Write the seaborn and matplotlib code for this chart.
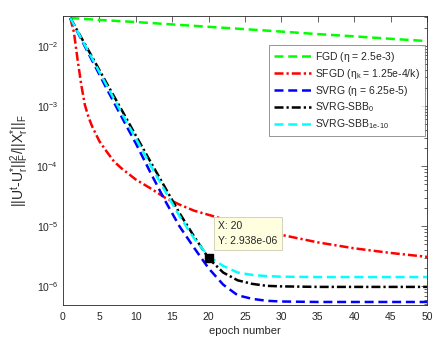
import matplotlib
matplotlib.use("Agg")
import matplotlib.pyplot as plt
import matplotlib.ticker as mticker
import seaborn as sns
import pandas as pd

# ---- data ----
fgd_epoch = [1, 5, 10, 15, 20, 25, 30, 35, 40, 45, 50]
fgd_err = [2.93e-2, 2.72e-2, 2.51e-2, 2.29e-2, 2.09e-2, 1.91e-2, 1.74e-2, 1.58e-2, 1.45e-2, 1.32e-2, 1.21e-2]

sfgd_epoch = [1, 1.5, 2, 2.5, 3, 3.5, 4, 5, 6, 7, 8, 10, 12, 14, 16, 18, 20, 22, 25, 30, 35, 40, 45, 50]
sfgd_err = [2.93e-2, 1.7e-2, 6.0e-3, 2.3e-3, 1.05e-3, 6.6e-4, 4.6e-4, 2.6e-4, 1.75e-4, 1.2e-4, 9.3e-5,
            6.0e-5, 4.3e-5, 3.0e-5, 2.3e-5, 1.82e-5, 1.55e-5, 1.32e-5, 1.05e-5, 7.2e-6, 5.4e-6, 4.3e-6,
            3.6e-6, 3.1e-6]

sbb_epoch = [1, 2, 4, 6, 8, 10, 12, 14, 16, 18, 20, 22, 24, 26, 28, 30, 35, 40, 45, 50]
svrg_err = [2.93e-2, 1.7e-2, 5.75e-3, 1.95e-3, 6.8e-4, 2.4e-4, 7.9e-5, 2.7e-5, 1.0e-5, 4.4e-6, 2.0e-6,
            1.07e-6, 7.1e-7, 6.2e-7, 5.75e-7, 5.6e-7, 5.5e-7, 5.5e-7, 5.5e-7, 5.5e-7]
sbb0_err = [2.93e-2, 1.78e-2, 6.6e-3, 2.4e-3, 8.9e-4, 3.24e-4, 1.2e-4, 4.47e-5, 1.66e-5, 6.8e-6, 2.938e-6,
            1.7e-6, 1.26e-6, 1.1e-6, 1.02e-6, 1.0e-6, 9.8e-7, 9.8e-7, 9.8e-7, 9.8e-7]
sbb10_err = [2.93e-2, 1.74e-2, 6.2e-3, 2.2e-3, 7.9e-4, 2.9e-4, 1.05e-4, 3.9e-5, 1.48e-5, 6.3e-6, 3.16e-6,
             2.19e-6, 1.7e-6, 1.55e-6, 1.48e-6, 1.45e-6, 1.43e-6, 1.43e-6, 1.43e-6, 1.43e-6]

labels = [r"FGD ($\eta$ = 2.5e-3)",
          r"SFGD ($\eta_{k}$ = 1.25e-4/k)",
          r"SVRG ($\eta$ = 6.25e-5)",
          r"SVRG-SBB$_{0}$",
          r"SVRG-SBB$_{1e\text{-}10}$"]

tip_x = 20
tip_y = 2.938e-06

# ---- style ----
sns.set_theme(style="white")
plt.rcParams["font.family"] = ["Liberation Sans", "DejaVu Sans"]
plt.rcParams["mathtext.fontset"] = "custom"
plt.rcParams["mathtext.rm"] = "Liberation Sans"
plt.rcParams["mathtext.it"] = "Liberation Sans:italic"
plt.rcParams["mathtext.default"] = "regular"

fig = plt.figure(figsize=(4.39, 3.44), dpi=100)
ax = fig.add_axes([63 / 439, 1 - 305 / 344, (427 - 63) / 439, (305 - 16) / 344])

series = [
    (fgd_epoch, fgd_err, (0, 1, 0), (0, (3.6, 1.9))),
    (sfgd_epoch, sfgd_err, (1, 0, 0), (0, (3.6, 1.2, 0.9, 1.2))),
    (sbb_epoch, svrg_err, (0, 0, 1), (0, (3.6, 1.9))),
    (sbb_epoch, sbb0_err, (0, 0, 0), (0, (3.6, 1.2, 0.9, 1.2))),
    (sbb_epoch, sbb10_err, (0, 1, 1), (0, (3.6, 1.9))),
]
for (xe, ye, col, ls), lab in zip(series, labels):
    df = pd.DataFrame({"epoch": xe, "err": ye})
    sns.lineplot(data=df, x="epoch", y="err", ax=ax, color=col, linewidth=1.8,
                 linestyle=ls, label=lab, sort=False, estimator=None)

ax.set_yscale("log")
ax.set_xlim(0, 50)
ax.set_ylim(10 ** -6.31, 10 ** -1.5)
ax.set_xticks(range(0, 51, 5))
ax.yaxis.set_major_locator(mticker.LogLocator(base=10, numticks=10))
ax.yaxis.set_minor_locator(mticker.LogLocator(base=10, subs=range(2, 10), numticks=20))
ax.yaxis.set_minor_formatter(mticker.NullFormatter())

gray = (0.15, 0.15, 0.15)
for sp in ax.spines.values():
    sp.set_visible(True)
    sp.set_color(gray)
    sp.set_linewidth(0.6)
ax.tick_params(which="both", direction="in", top=True, right=True, colors=gray,
               labelsize=7.5, width=0.5)
ax.tick_params(which="major", length=4)
ax.tick_params(which="minor", length=2)
ax.tick_params(axis="x", which="both", pad=5)
ax.tick_params(axis="x", which="minor", bottom=False, top=False)
for t in ax.get_xticklabels() + ax.get_yticklabels():
    t.set_color(gray)

ax.set_xlabel("epoch number", fontsize=8, color=gray, labelpad=3)
ax.set_ylabel(r"$||U^{t}$-$U^{*}_{r}||^{2}_{F}/||X^{*}_{r}||_{F}$", fontsize=10, color=gray, labelpad=4)

leg = ax.legend(loc="upper right", bbox_to_anchor=(1 - 2 / 364, 1 - 29 / 289), fontsize=7.5,
                frameon=True, fancybox=False, edgecolor=(0.4, 0.4, 0.4), handlelength=3.6,
                borderpad=0.45, labelspacing=0.28, handletextpad=0.4, borderaxespad=0.0)
leg.get_frame().set_linewidth(0.6)

# data tip
ax.plot([tip_x], [tip_y], marker="s", markersize=5.5, color="black", linestyle="none")
ax.annotate(f"X: {tip_x}\nY: {tip_y:.3e}", xy=(tip_x, tip_y), xytext=(7, 9),
            textcoords="offset points", fontsize=7.5, ha="left", va="bottom",
            linespacing=1.6,
            bbox=dict(boxstyle="square,pad=0.4", fc=(1, 1, 0.88), ec=(0.8, 0.8, 0.7), lw=0.6))

fig.savefig("out.png", dpi=100)
